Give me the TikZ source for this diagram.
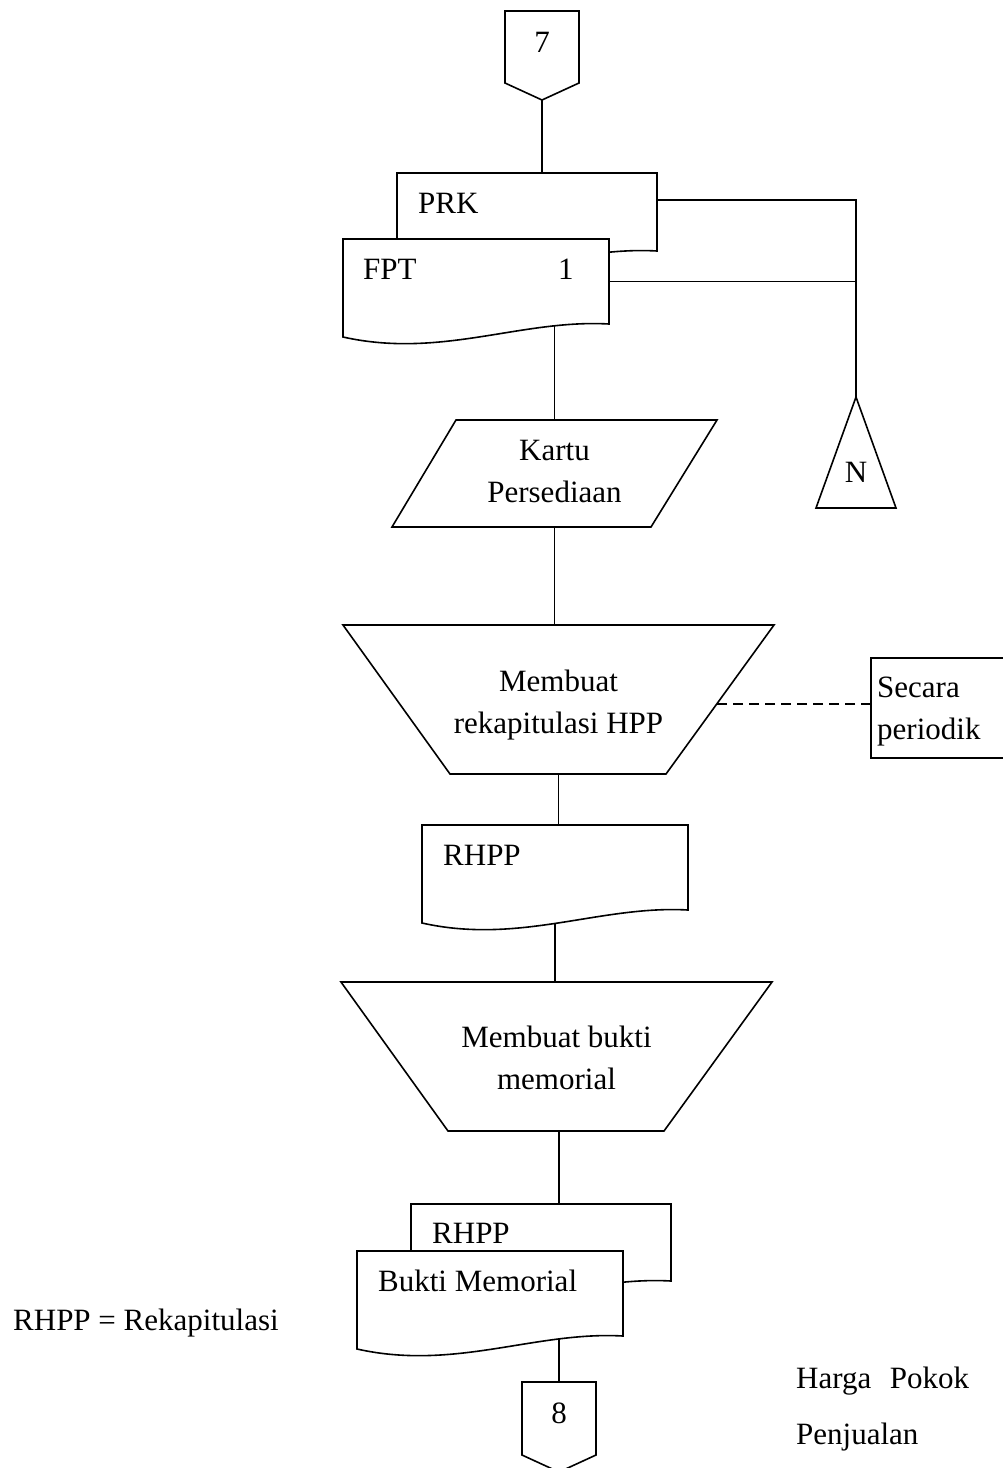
\documentclass[tikz,border=0pt]{standalone}
\usepackage{fontspec}
\setmainfont{Liberation Serif}
\usetikzlibrary{calc, positioning}

% outlines drawn from the anchors of an empty frame node
\newcommand\docshape[1]{%
  \draw[outl] (#1.south east) -- (#1.north east) -- (#1.north west)
    -- ($(#1.south west)+(0,13)$)
    .. controls +(98,22) and +(-88,-5) .. (#1.south east) -- cycle;}
\newcommand\offshape[1]{%
  \draw[outl] (#1.south west) -- (#1.north west) -- (#1.north east)
    -- (#1.south east) -- ($(#1.south)+(0,17)$) -- cycle;}
\newcommand\inshape[1]{%
  \draw[outl] ($(#1.north west)+(64,0)$) -- (#1.north east)
    -- ($(#1.south east)+(-66,0)$) -- (#1.south west) -- cycle;}
\newcommand\procshape[1]{%
  \draw[outl] (#1.north west) -- (#1.north east)
    -- ($(#1.south east)+(-108,0)$) -- ($(#1.south west)+(107,0)$) -- cycle;}
\newcommand\mergeshape[1]{%
  \draw[outl] (#1.north) -- (#1.south east) -- (#1.south west) -- cycle;}

\begin{document}
\begin{tikzpicture}[x=1pt,y=-1pt,
    shp/.style={inner sep=0pt,outer sep=0pt},
    outl/.style={line width=1.6pt,fill=white},
    conn/.style={line width=1.6pt},
    lbl/.style={inner sep=0pt,font=\fontsize{31}{42}\selectfont,text depth=0pt}]
  \useasboundingbox (0,0) rectangle (1002,1468);

  % frames
  \node[shp,minimum width=74pt,minimum height=72pt]   (c7)    at (542,47)     {};
  \node[shp,minimum width=260pt,minimum height=78pt]  (prk)   at (527,212)    {};
  \node[shp,minimum width=266pt,minimum height=85pt]  (fpt)   at (476,281.5)  {};
  \node[shp,minimum width=80pt,minimum height=111pt]  (tri)   at (856,452.5)  {};
  \node[shp,minimum width=325pt,minimum height=107pt] (kartu) at (554.5,473.5) {};
  \node[shp,minimum width=431pt,minimum height=149pt] (proc1) at (558.5,699.5) {};
  \node[shp,draw,line width=1.6pt,fill=white,minimum width=139pt,minimum height=100pt]
                                                      (secara) at (940.5,708) {};
  \node[shp,minimum width=266pt,minimum height=85pt]  (rhppa) at (555,867.5)  {};
  \node[shp,minimum width=431pt,minimum height=149pt] (proc2) at (556.5,1056.5) {};
  \node[shp,minimum width=260pt,minimum height=77pt]  (rhppb) at (541,1242.5) {};
  \node[shp,minimum width=266pt,minimum height=85pt]  (bukti) at (490,1293.5) {};
  \node[shp,minimum width=74pt,minimum height=73pt]   (c8)    at (559,1418.5) {};

  % connectors
  \draw[conn] (c7.south) -- (c7.south |- prk.north);
  \draw[conn] ($(prk.east)+(0,-12)$) -| (tri.north);
  \draw[conn] (fpt.east) -- (fpt.east -| tri.north);
  \draw[conn] (kartu.north |- fpt.center) -- (kartu.north);
  \draw[conn] (kartu.south) -- (kartu.south |- proc1.north);
  \draw[conn] (proc1.center) -- (proc1.center |- rhppa.north);
  \draw[conn,dash pattern=on 10pt off 6pt] ($(secara.west)+(0,-4)$) -- ($(secara.west -| proc1.center)+(0,-4)$);
  \draw[conn] (rhppa.center) -- (rhppa.center |- proc2.north);
  \draw[conn] (c8.north |- proc2.center) -- (c8.north |- rhppb.north);
  \draw[conn] (c8.north |- bukti.center) -- (c8.north);

  % shapes
  \offshape{c7}
  \docshape{prk}
  \docshape{fpt}
  \mergeshape{tri}
  \inshape{kartu}
  \procshape{proc1}
  \docshape{rhppa}
  \procshape{proc2}
  \docshape{rhppb}
  \docshape{bukti}
  \offshape{c8}

  % texts
  \node[lbl,anchor=base] (t7) at (542,52) {7};
  \node[lbl,anchor=base west] (tprk) at (418,213) {PRK};
  \node[lbl,anchor=base west] (tfpt) at (363,279) {FPT};
  \node[lbl,anchor=base west] (tfptno) at (558,279) {1};
  \node[lbl,anchor=base] (tn) at (856,482) {N};
  \node[lbl,align=center,yshift=2.5pt] (tkartu) at (kartu) {Kartu\\Persediaan};
  \node[lbl,align=center,yshift=-2.4pt] (tproc1) at (proc1) {Membuat\\rekapitulasi HPP};
  \node[lbl,align=left,anchor=west,xshift=6pt] (tsecara) at (secara.west) {Secara\\periodik};
  \node[lbl,anchor=base west] (trhppa) at (443,865) {RHPP};
  \node[lbl,align=center,yshift=-1.4pt] (tproc2) at (proc2) {Membuat bukti\\memorial};
  \node[lbl,anchor=base west] (trhppb) at (432,1243) {RHPP};
  \node[lbl,anchor=base west] (tbukti) at (378,1291) {Bukti Memorial};
  \node[lbl,anchor=base west] (tket) at (13,1330) {RHPP = Rekapitulasi};
  \node[lbl,align=left,anchor=west] (tket2) at (796,1405.4) {Harga\hspace{0.6em}Pokok\\[14pt]Penjualan};
  \node[lbl,anchor=base] (t8) at (559,1423) {8};
\end{tikzpicture}
\end{document}
